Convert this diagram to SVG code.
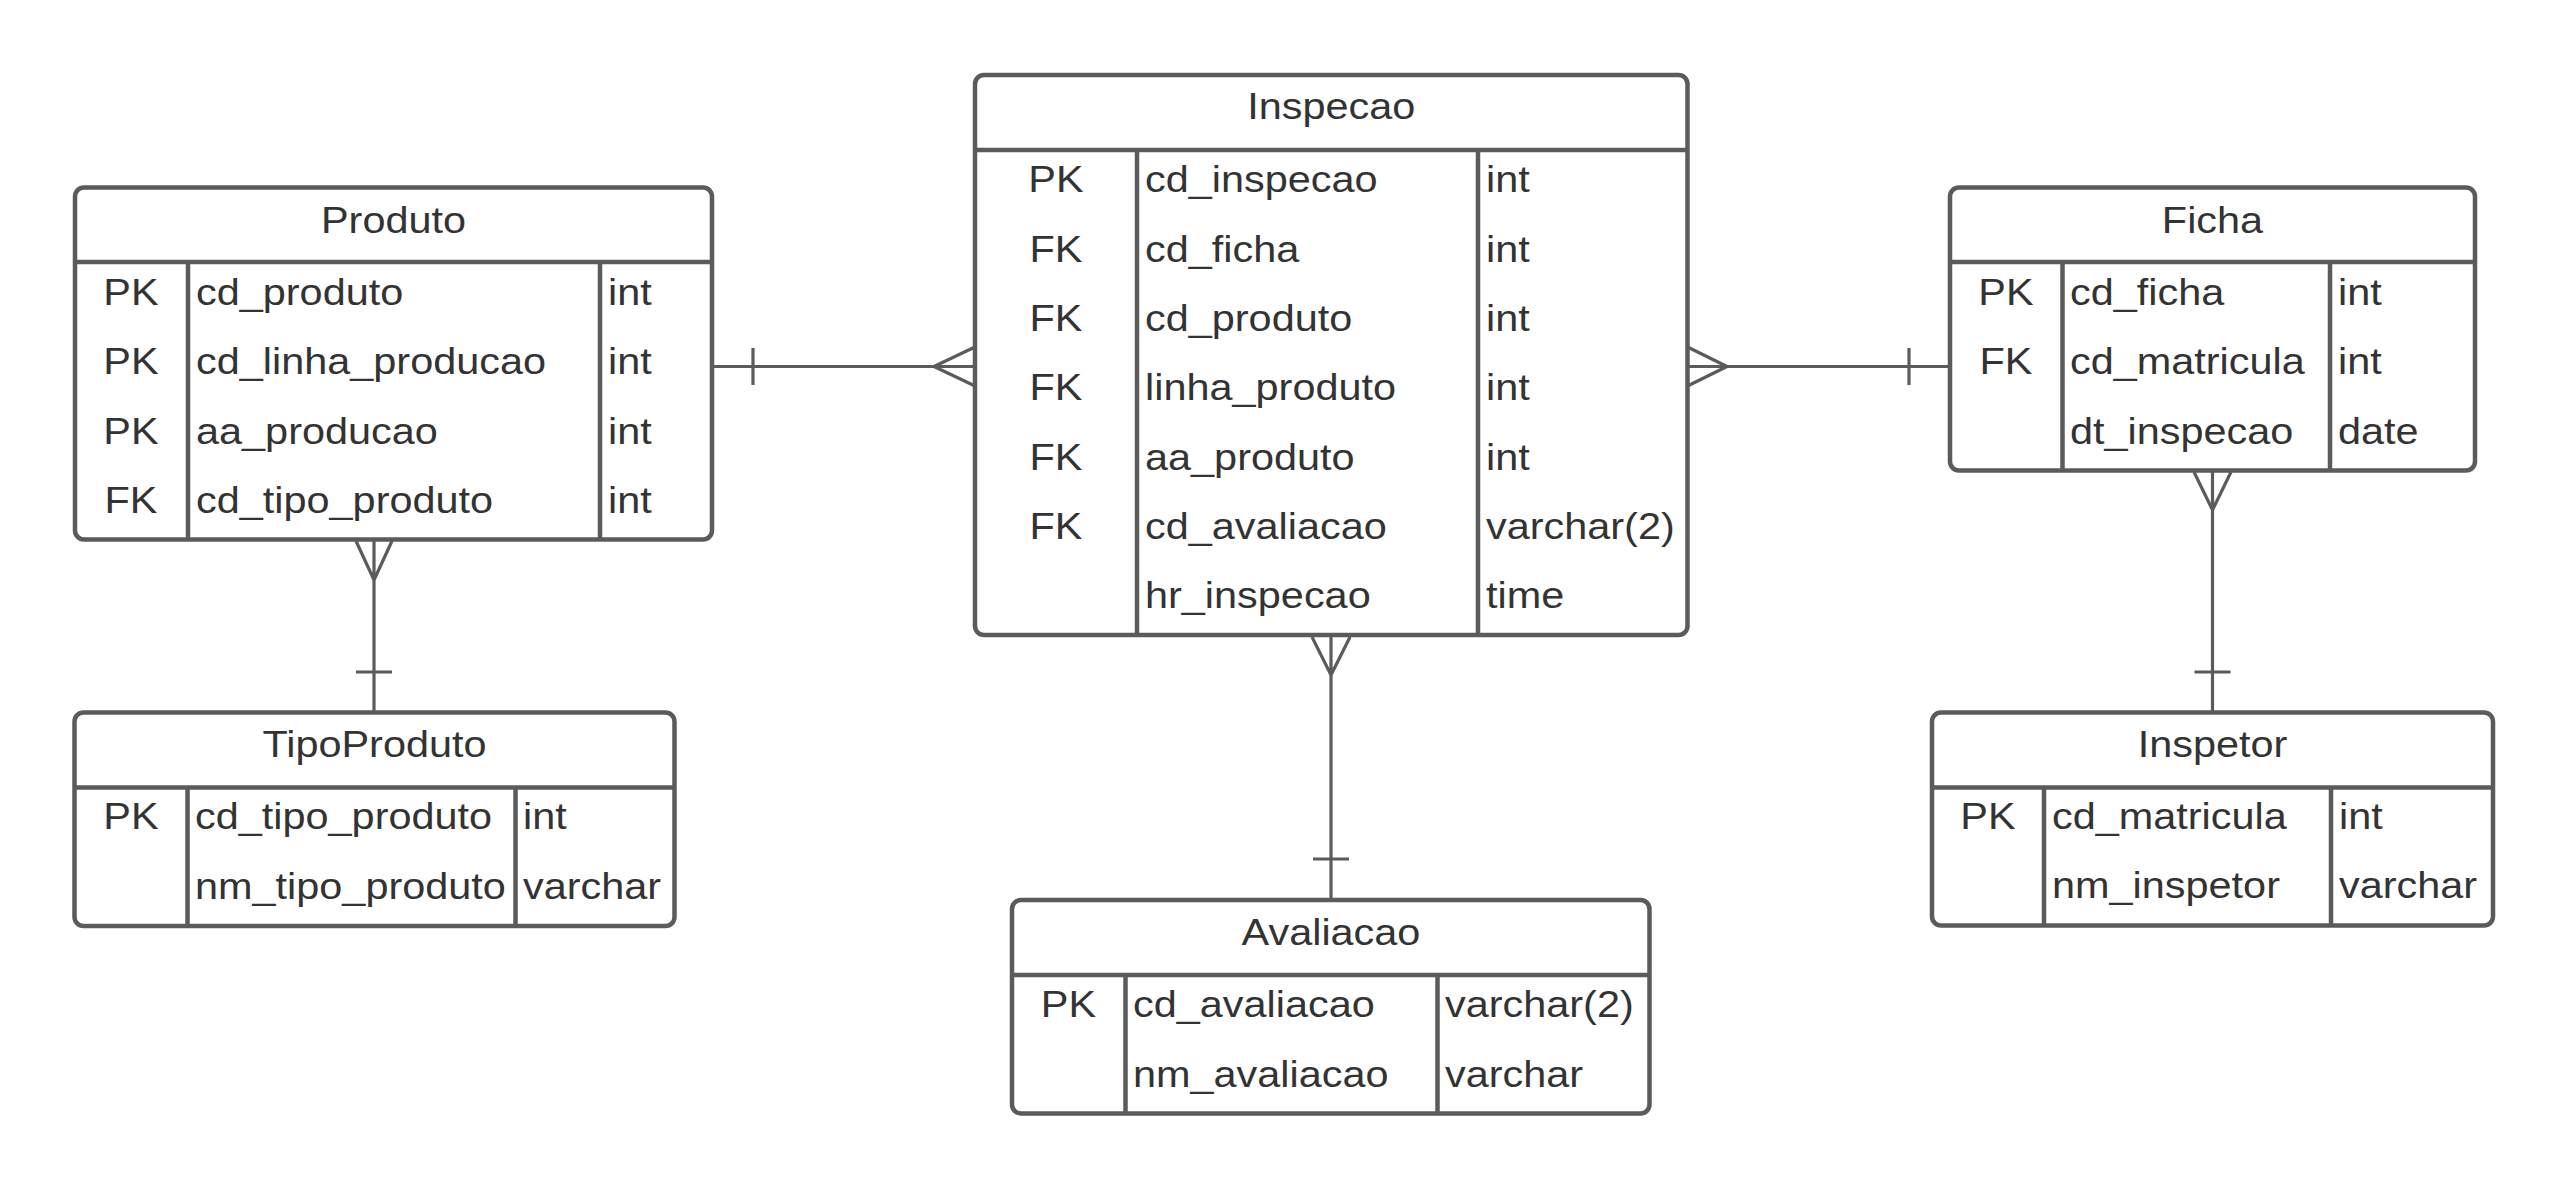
<svg xmlns="http://www.w3.org/2000/svg" width="2569" height="1189" viewBox="0 0 2569 1189">
<style>
.box{fill:#fff;stroke:#5b5b5b;stroke-width:4.5}
.sep{stroke:#5b5b5b;stroke-width:4.5;fill:none}
.conn{stroke:#5b5b5b;stroke-width:3.2;fill:none}
text{font-family:"Liberation Sans",Arial,sans-serif;font-size:37px;fill:#333}
.c{text-anchor:middle}
</style>
<rect width="2569" height="1189" fill="#fff"/>
<g id="connectors">
  <path class="conn" d="M712 366.5H975M753 348V385M934 366.5L975 347M934 366.5L975 386"/>
  <path class="conn" d="M1687.5 366.5H1950M1909 348V385M1727 366.5L1687.5 347M1727 366.5L1687.5 386"/>
  <path class="conn" d="M374 539V712.5M356 672H392M374 580L356 541M374 580L392 541"/>
  <path class="conn" d="M1331 635V900M1313 859H1349M1331 675L1312 637M1331 675L1350 637"/>
  <path class="conn" d="M2212.5 470V712.5M2194.5 672H2230.5M2212.5 510L2194 472M2212.5 510L2231 472"/>
</g>
<g id="Produto">
  <rect class="box" x="75" y="187.5" width="637" height="352" rx="9"/>
  <path class="sep" d="M75 262H712M188 262V539.5M600 262V539.5"/>
  <g transform="scale(1.12 1)">
    <text class="c" x="351.34" y="233">Produto</text>
    <text class="c" x="116.96" y="305">PK</text>
    <text class="c" x="116.96" y="374.3">PK</text>
    <text class="c" x="116.96" y="443.6">PK</text>
    <text class="c" x="116.96" y="512.9">FK</text>
    <text x="175" y="305">cd_produto</text>
    <text x="175" y="374.3">cd_linha_producao</text>
    <text x="175" y="443.6">aa_producao</text>
    <text x="175" y="512.9">cd_tipo_produto</text>
    <text x="542.86" y="305">int</text>
    <text x="542.86" y="374.3">int</text>
    <text x="542.86" y="443.6">int</text>
    <text x="542.86" y="512.9">int</text>
  </g>
</g>
<g id="Inspecao">
  <rect class="box" x="975" y="75" width="712.5" height="560" rx="9"/>
  <path class="sep" d="M975 150H1687.5M1137 150V635M1478 150V635"/>
  <g transform="scale(1.12 1)">
    <text class="c" x="1188.66" y="119">Inspecao</text>
    <text class="c" x="942.86" y="192.5">PK</text>
    <text class="c" x="942.86" y="261.8">FK</text>
    <text class="c" x="942.86" y="331.1">FK</text>
    <text class="c" x="942.86" y="400.4">FK</text>
    <text class="c" x="942.86" y="469.7">FK</text>
    <text class="c" x="942.86" y="539">FK</text>
    <text x="1022.32" y="192.5">cd_inspecao</text>
    <text x="1022.32" y="261.8">cd_ficha</text>
    <text x="1022.32" y="331.1">cd_produto</text>
    <text x="1022.32" y="400.4">linha_produto</text>
    <text x="1022.32" y="469.7">aa_produto</text>
    <text x="1022.32" y="539">cd_avaliacao</text>
    <text x="1022.32" y="608.3">hr_inspecao</text>
    <text x="1326.79" y="192.5">int</text>
    <text x="1326.79" y="261.8">int</text>
    <text x="1326.79" y="331.1">int</text>
    <text x="1326.79" y="400.4">int</text>
    <text x="1326.79" y="469.7">int</text>
    <text x="1326.79" y="539">varchar(2)</text>
    <text x="1326.79" y="608.3">time</text>
  </g>
</g>
<g id="Ficha">
  <rect class="box" x="1950" y="187.5" width="525" height="283" rx="9"/>
  <path class="sep" d="M1950 262H2475M2062.5 262V470.5M2330 262V470.5"/>
  <g transform="scale(1.12 1)">
    <text class="c" x="1975.45" y="233">Ficha</text>
    <text class="c" x="1791.07" y="305">PK</text>
    <text class="c" x="1791.07" y="374.3">FK</text>
    <text x="1848.21" y="305">cd_ficha</text>
    <text x="1848.21" y="374.3">cd_matricula</text>
    <text x="1848.21" y="443.6">dt_inspecao</text>
    <text x="2087.5" y="305">int</text>
    <text x="2087.5" y="374.3">int</text>
    <text x="2087.5" y="443.6">date</text>
  </g>
</g>
<g id="TipoProduto">
  <rect class="box" x="74.5" y="712.5" width="600" height="213.5" rx="9"/>
  <path class="sep" d="M74.5 787.5H674.5M187.5 787.5V926M515.5 787.5V926"/>
  <g transform="scale(1.12 1)">
    <text class="c" x="334.38" y="757">TipoProduto</text>
    <text class="c" x="116.96" y="829.5">PK</text>
    <text x="174.11" y="829.5">cd_tipo_produto</text>
    <text x="174.11" y="898.8">nm_tipo_produto</text>
    <text x="466.96" y="829.5">int</text>
    <text x="466.96" y="898.8">varchar</text>
  </g>
</g>
<g id="Avaliacao">
  <rect class="box" x="1012" y="900" width="637.5" height="213.5" rx="9"/>
  <path class="sep" d="M1012 975H1649.5M1125.5 975V1113.5M1437.5 975V1113.5"/>
  <g transform="scale(1.12 1)">
    <text class="c" x="1188.39" y="945">Avaliacao</text>
    <text class="c" x="954.02" y="1017.5">PK</text>
    <text x="1011.61" y="1017.5">cd_avaliacao</text>
    <text x="1011.61" y="1086.8">nm_avaliacao</text>
    <text x="1290.18" y="1017.5">varchar(2)</text>
    <text x="1290.18" y="1086.8">varchar</text>
  </g>
</g>
<g id="Inspetor">
  <rect class="box" x="1932" y="712.5" width="561" height="213" rx="9"/>
  <path class="sep" d="M1932 787.5H2493M2044 787.5V925.5M2331 787.5V925.5"/>
  <g transform="scale(1.12 1)">
    <text class="c" x="1975.45" y="757">Inspetor</text>
    <text class="c" x="1775" y="829">PK</text>
    <text x="1832.14" y="829">cd_matricula</text>
    <text x="1832.14" y="898.3">nm_inspetor</text>
    <text x="2088.39" y="829">int</text>
    <text x="2088.39" y="898.3">varchar</text>
  </g>
</g>
</svg>
